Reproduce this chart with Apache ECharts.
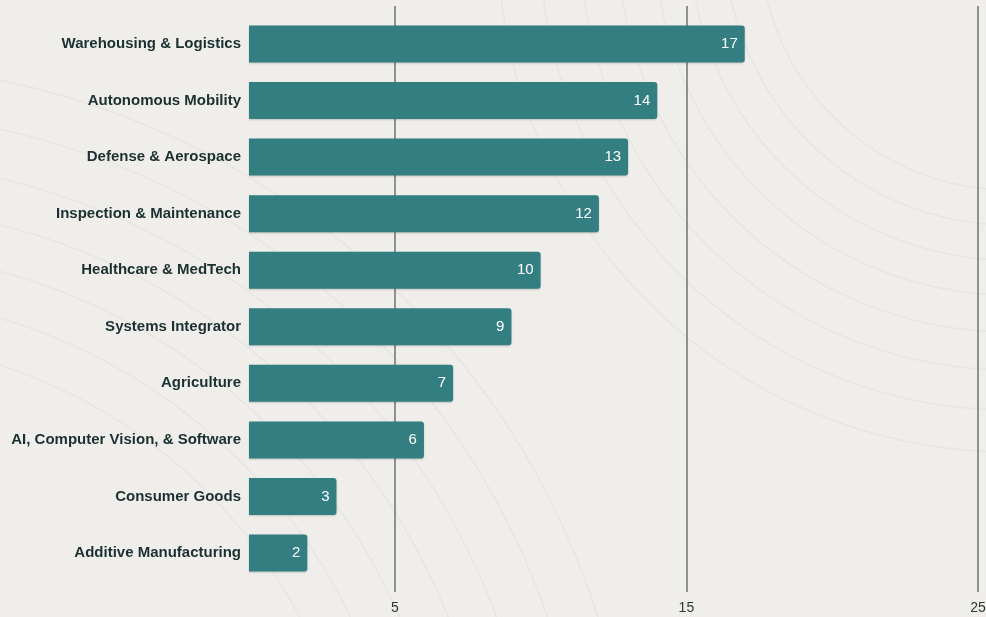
<!DOCTYPE html>
<html>
<head>
<meta charset="utf-8">
<script src="https://cdn.jsdelivr.net/npm/echarts@6/dist/echarts.min.js"></script>
<style>
  html, body { margin: 0; padding: 0; background: #efeeea; }
  #chart { width: 986px; height: 617px; }
</style>
</head>
<body>
<div id="chart"></div>
<script>
// Sectors, listed top to bottom
const sectors = [
  'Warehousing & Logistics',
  'Autonomous Mobility',
  'Defense & Aerospace',
  'Inspection & Maintenance',
  'Healthcare & MedTech',
  'Systems Integrator',
  'Agriculture',
  'AI, Computer Vision, & Software',
  'Consumer Goods',
  'Additive Manufacturing'
];
// Number of companies per sector
const counts = [17, 14, 13, 12, 10, 9, 7, 6, 3, 2];
// Value axis ticks
const xTicks = [5, 15, 25];
const xMax = 25;

const FONT = 'Liberation Sans, Arial, sans-serif';

// Faint contour rings for the backdrop
function rings(cx, cy, radii) {
  return radii.map(r => ({
    type: 'circle',
    silent: true,
    z: -10,
    shape: { cx: cx, cy: cy, r: r },
    style: { fill: null, stroke: 'rgba(60,60,50,0.04)', lineWidth: 1.6 }
  }));
}
const backdrop = [].concat(
  rings(1010, -60, [250, 285, 320, 355, 392, 430, 470, 512]),
  rings(-160, 860, [520, 565, 610, 655, 700, 748, 796])
);

const chart = echarts.init(document.getElementById('chart'), null, { renderer: 'canvas' });
chart.setOption({
  backgroundColor: '#efeeea',
  animation: false,
  graphic: backdrop,
  grid: [
    // full-height grid carrying the vertical reference lines and tick labels
    { left: 249, right: 8, top: 6, bottom: 25, containLabel: false, outerBoundsMode: 'none' },
    // grid holding the bars
    { left: 249, right: 8, top: 15.7, bottom: 35.7, containLabel: false, outerBoundsMode: 'none' }
  ],
  xAxis: [
    {
      gridIndex: 0, type: 'value', min: 0, max: xMax, z: 0,
      axisLine: { show: false },
      axisTick: { show: false, customValues: xTicks },
      axisLabel: {
        customValues: xTicks, margin: 9,
        color: '#2a3838', fontSize: 14, fontFamily: FONT
      },
      splitLine: { show: true, lineStyle: { color: '#707070', width: 1.5 } }
    },
    {
      gridIndex: 1, type: 'value', min: 0, max: xMax, show: false,
      splitLine: { show: false }
    }
  ],
  yAxis: [
    {
      gridIndex: 0, type: 'value', show: false, splitLine: { show: false }
    },
    {
      gridIndex: 1, type: 'category', data: sectors, inverse: true,
      axisLine: { show: false }, axisTick: { show: false },
      splitLine: { show: false },
      axisLabel: {
        margin: 8, color: '#1b3030', fontSize: 15, fontWeight: 'bold',
        fontFamily: FONT
      }
    }
  ],
  series: [
    {
      type: 'bar', xAxisIndex: 1, yAxisIndex: 1, z: 10,
      data: counts, barWidth: 37,
      itemStyle: {
        color: '#337e80', borderRadius: [0, 3, 3, 0],
        shadowColor: 'rgba(0,0,0,0.18)', shadowBlur: 2, shadowOffsetY: 1
      },
      label: {
        show: true, position: 'insideRight', distance: 7,
        color: '#ffffff', fontSize: 15, fontFamily: FONT
      }
    }
  ]
});
</script>
</body>
</html>
